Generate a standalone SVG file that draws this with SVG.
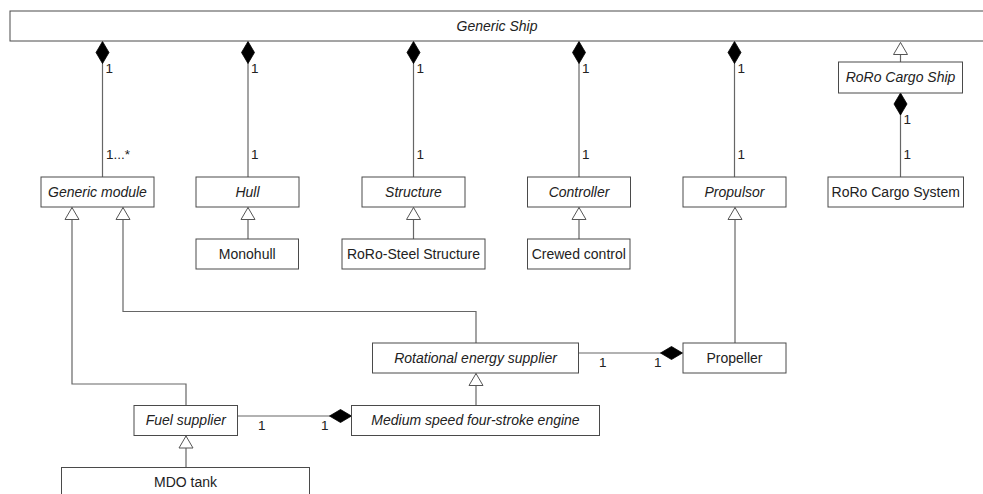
<svg xmlns="http://www.w3.org/2000/svg" width="983" height="494" viewBox="0 0 983 494">
  <defs>
    <style>
      .box { fill: #ffffff; stroke: #4a4a4a; stroke-width: 1; }
      .lbl { font-family: "Liberation Sans", Arial, sans-serif; font-size: 14px; fill: #222222; text-anchor: middle; }
      .abs { font-style: italic; }
      .mult { font-family: "Liberation Sans", Arial, sans-serif; font-size: 13.5px; fill: #222222; }
      .conn { fill: none; stroke: #666666; stroke-width: 1.2; }
      .comp { marker-start: url(#diamond); }
      .gen { marker-end: url(#triangle); }
    </style>
    <!-- filled diamond for composition, drawn at the owning end -->
    <marker id="diamond" markerUnits="userSpaceOnUse" markerWidth="23" markerHeight="15" viewBox="0 0 23 15" refX="0.5" refY="7.5" orient="auto">
      <path d="M0.5,7.5 L11.5,1 L22.5,7.5 L11.5,14 Z" fill="#000000" stroke="#000000" stroke-width="0.8"/>
    </marker>
    <!-- hollow triangle for generalization, pointing at the parent -->
    <marker id="triangle" markerUnits="userSpaceOnUse" markerWidth="14" markerHeight="16" viewBox="0 0 14 16" refX="13" refY="8" orient="auto">
      <path d="M1,1 L13,8 L1,15 Z" fill="#ffffff" stroke="#555555" stroke-width="1"/>
    </marker>
  </defs>

  <rect width="983" height="494" fill="#ffffff"/>

  <!-- connectors -->
  <g id="connectors">
    <!-- compositions from Generic Ship -->
    <line class="conn comp" x1="102.5" y1="41.5" x2="102.5" y2="177"/>
    <line class="conn comp" x1="248" y1="41.5" x2="248" y2="177"/>
    <line class="conn comp" x1="413.5" y1="41.5" x2="413.5" y2="177"/>
    <line class="conn comp" x1="579" y1="41.5" x2="579" y2="177"/>
    <line class="conn comp" x1="734.5" y1="41.5" x2="734.5" y2="177"/>
    <!-- RoRo Cargo Ship specialises Generic Ship -->
    <line class="conn gen" x1="900.5" y1="62" x2="900.5" y2="42.5"/>
    <!-- RoRo Cargo Ship owns RoRo Cargo System -->
    <line class="conn comp" x1="900.5" y1="93" x2="900.5" y2="177"/>

    <!-- generalizations -->
    <line class="conn gen" x1="248" y1="239" x2="248" y2="207.5"/>
    <line class="conn gen" x1="413.5" y1="239" x2="413.5" y2="207.5"/>
    <line class="conn gen" x1="579" y1="239" x2="579" y2="207.5"/>
    <line class="conn gen" x1="735" y1="343" x2="735" y2="207.5"/>
    <polyline class="conn gen" points="476,343 476,311.5 123,311.5 123,207.5"/>
    <polyline class="conn gen" points="186,405 186,384 72,384 72,207.5"/>
    <line class="conn gen" x1="476" y1="405" x2="476" y2="373.5"/>
    <line class="conn gen" x1="186" y1="467.5" x2="186" y2="436"/>

    <!-- part-whole links in the energy chain -->
    <line class="conn comp" x1="682.5" y1="353" x2="579" y2="353"/>
    <line class="conn comp" x1="351.5" y1="416" x2="237.5" y2="416"/>

    <!-- multiplicities -->
    <text class="mult" x="105.5" y="73">1</text>
    <text class="mult" x="106" y="159">1...*</text>
    <text class="mult" x="251" y="73">1</text>
    <text class="mult" x="251" y="159">1</text>
    <text class="mult" x="416.5" y="73">1</text>
    <text class="mult" x="416.5" y="159">1</text>
    <text class="mult" x="582" y="73">1</text>
    <text class="mult" x="582" y="159">1</text>
    <text class="mult" x="737.5" y="73">1</text>
    <text class="mult" x="737.5" y="159">1</text>
    <text class="mult" x="903.5" y="124">1</text>
    <text class="mult" x="903.5" y="159">1</text>
    <text class="mult" x="599" y="367">1</text>
    <text class="mult" x="654" y="367">1</text>
    <text class="mult" x="258" y="430">1</text>
    <text class="mult" x="321" y="430">1</text>
  </g>

  <!-- classes -->
  <g id="generic-ship">
    <rect class="box" x="10" y="11" width="990" height="30"/>
    <text class="lbl abs" x="497" y="30.5">Generic Ship</text>
  </g>
  <g id="generic-module">
    <rect class="box" x="41" y="177" width="113" height="30"/>
    <text class="lbl abs" x="97.5" y="196.5">Generic module</text>
  </g>
  <g id="hull">
    <rect class="box" x="196" y="177" width="103" height="30"/>
    <text class="lbl abs" x="247.5" y="196.5">Hull</text>
  </g>
  <g id="structure">
    <rect class="box" x="362" y="177" width="103" height="30"/>
    <text class="lbl abs" x="413.5" y="196.5">Structure</text>
  </g>
  <g id="controller">
    <rect class="box" x="527.5" y="177" width="103" height="30"/>
    <text class="lbl abs" x="579" y="196.5">Controller</text>
  </g>
  <g id="propulsor">
    <rect class="box" x="683" y="177" width="103" height="30"/>
    <text class="lbl abs" x="734.5" y="196.5">Propulsor</text>
  </g>
  <g id="roro-cargo-ship">
    <rect class="box" x="838.5" y="62" width="124" height="31"/>
    <text class="lbl abs" x="900.5" y="81.5">RoRo Cargo Ship</text>
  </g>
  <g id="roro-cargo-system">
    <rect class="box" x="828" y="177" width="135.5" height="30"/>
    <text class="lbl" x="895.75" y="196.5">RoRo Cargo System</text>
  </g>
  <g id="monohull">
    <rect class="box" x="196" y="239" width="102.5" height="30"/>
    <text class="lbl" x="247.25" y="258.5">Monohull</text>
  </g>
  <g id="roro-steel-structure">
    <rect class="box" x="342" y="239" width="143" height="30"/>
    <text class="lbl" x="413.5" y="258.5">RoRo-Steel Structure</text>
  </g>
  <g id="crewed-control">
    <rect class="box" x="527.5" y="239" width="102.5" height="30"/>
    <text class="lbl" x="578.75" y="258.5">Crewed control</text>
  </g>
  <g id="rotational-energy-supplier">
    <rect class="box" x="372.5" y="343" width="206" height="30"/>
    <text class="lbl abs" x="475.5" y="362.5">Rotational energy supplier</text>
  </g>
  <g id="propeller">
    <rect class="box" x="683" y="343" width="103" height="30"/>
    <text class="lbl" x="734.5" y="362.5">Propeller</text>
  </g>
  <g id="fuel-supplier">
    <rect class="box" x="134" y="405.5" width="103.5" height="30"/>
    <text class="lbl abs" x="185.75" y="425">Fuel supplier</text>
  </g>
  <g id="medium-speed-engine">
    <rect class="box" x="351.5" y="405.5" width="248" height="30"/>
    <text class="lbl abs" x="475.5" y="425">Medium speed four-stroke engine</text>
  </g>
  <g id="mdo-tank">
    <rect class="box" x="61.5" y="467.5" width="248" height="40"/>
    <text class="lbl" x="185.5" y="486.5">MDO tank</text>
  </g>
</svg>
